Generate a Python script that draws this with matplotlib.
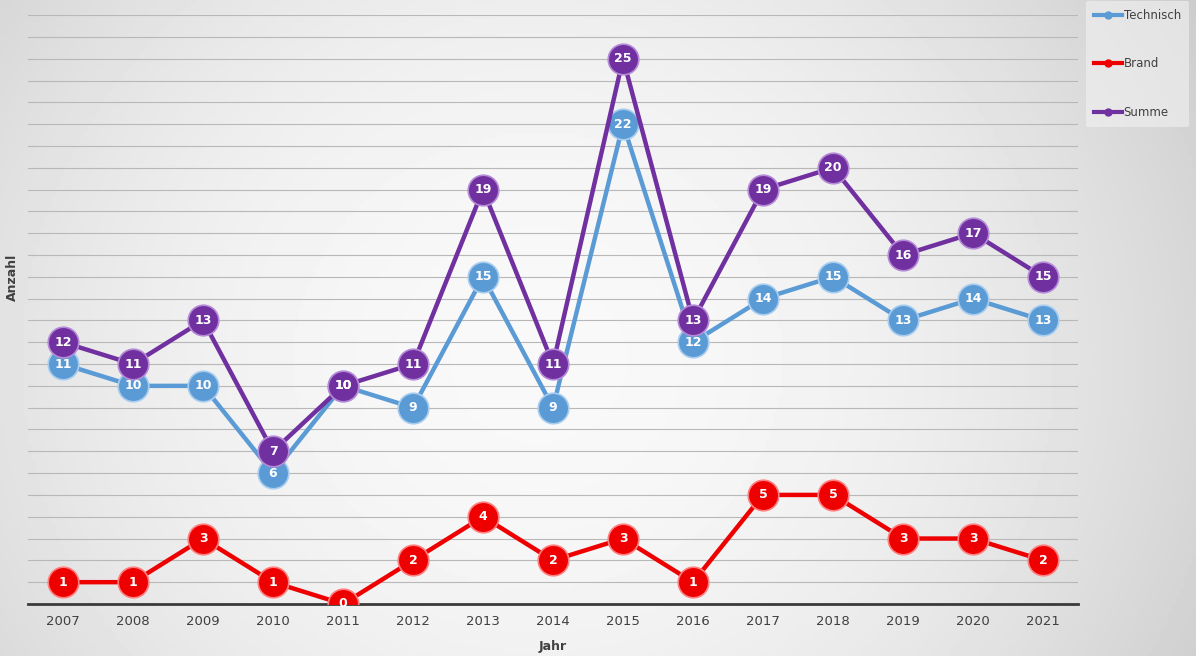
import numpy as np
import matplotlib
matplotlib.use("Agg")
import matplotlib.pyplot as plt
from matplotlib.lines import Line2D

# ── Data ──
years = [2007, 2008, 2009, 2010, 2011, 2012, 2013, 2014, 2015, 2016, 2017, 2018, 2019, 2020, 2021]
technisch = [11, 10, 10, 6, 10, 9, 15, 9, 22, 12, 14, 15, 13, 14, 13]
brand = [1, 1, 3, 1, 0, 2, 4, 2, 3, 1, 5, 5, 3, 3, 2]
summe = [12, 11, 13, 7, 10, 11, 19, 11, 25, 13, 19, 20, 16, 17, 15]

series = [
    ("Technisch", technisch, "#5b9bd5", "#a9cdef"),
    ("Brand", brand, "#ee0000", "#ff8080"),
    ("Summe", summe, "#7030a0", "#b58ad6"),
]

fig = plt.figure(figsize=(11.96, 6.56), dpi=100)

# background gradient (light centre, grey edges)
bg = fig.add_axes([0, 0, 1, 1], zorder=-10)
xx, yy = np.meshgrid(np.linspace(0, 1, 300), np.linspace(0, 1, 200))
shade = 0.975 - 0.13 * ((xx - 0.45) / 0.55) ** 2 - 0.03 * ((yy - 0.55) / 0.45) ** 2
bg.imshow(shade, cmap="gray", vmin=0, vmax=1, aspect="auto", extent=[0, 1, 0, 1])
bg.axis("off")

ax = fig.add_axes([0.0234, 0.0793, 0.878, 0.8977])
ax.set_facecolor("none")

positions = list(range(len(years)))
for label, values, color, edge in series:
    ax.plot(positions, values, color=color, linewidth=3.2, marker="o",
            markersize=22, markerfacecolor=color, markeredgecolor=edge,
            markeredgewidth=1.2, label=label, zorder=3)
    for x, v in zip(positions, values):
        ax.text(x, v, str(v), ha="center", va="center", fontsize=9,
                fontweight="bold", color="white", zorder=4)

ax.set_xlim(-0.5, len(years) - 0.5)
ax.set_ylim(0, 27)
ax.set_yticks(range(1, 28))
ax.set_yticklabels([])
ax.set_xticks(positions)
ax.set_xticklabels([str(y) for y in years], fontsize=9.5, color="#404040")
ax.tick_params(axis="both", length=0)
ax.tick_params(axis="x", pad=8)
ax.grid(axis="y", color="#b8b8b8", linewidth=0.8, zorder=0)
ax.set_axisbelow(True)

for side in ["top", "right", "left"]:
    ax.spines[side].set_visible(False)
ax.spines["bottom"].set_color("#3a3a3a")
ax.spines["bottom"].set_linewidth(2)

ax.set_xlabel("Jahr", fontsize=9, fontweight="bold", color="#404040")
ax.xaxis.set_label_coords(0.5, -0.062)
ax.set_ylabel("Anzahl", fontsize=9, fontweight="bold", color="#404040")
ax.yaxis.set_label_coords(-0.009, 0.555)

handles = [Line2D([0], [0], color=c, linewidth=3, marker="o", markersize=5,
                  markerfacecolor=c, markeredgecolor=c) for _, _, c, _ in series]
labels = [s[0] for s in series]
leg = fig.legend(handles, labels, loc="upper left", bbox_to_anchor=(0.903, 1.008),
                 fontsize=8.5, labelspacing=3.0, handlelength=2.4, handletextpad=0.1,
                 frameon=True, facecolor="#f2f2f2", edgecolor="none", framealpha=0.6,
                 borderpad=0.7)
for t in leg.get_texts():
    t.set_color("#404040")

fig.savefig("out.png", dpi=100)
